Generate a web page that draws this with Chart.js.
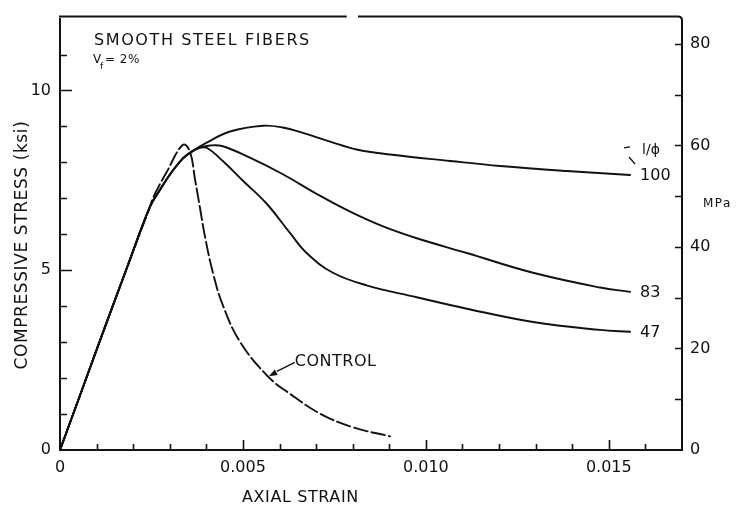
<!DOCTYPE html>
<html>
<head>
<meta charset="utf-8">
<script src="https://cdn.jsdelivr.net/npm/chart.js@4"></script>
<style>
  html, body { margin: 0; padding: 0; background: #fff; }
  canvas { display: block; }
</style>
</head>
<body>
<canvas id="c" width="736" height="508"></canvas>
<script>
// Axis tick labels
const strainTicks = [0, 0.005, 0.010, 0.015];
const strainTickLabels = ['0', '0.005', '0.010', '0.015'];
const ksiTicks = [0, 5, 10];
const mpaTicks = [0, 20, 40, 60, 80];

// Plain concrete (control)
const controlStrain = [0, 0.00060, 0.00120, 0.00183, 0.00246, 0.00255, 0.00292, 0.00336,
  0.00355, 0.00369, 0.00383, 0.00396, 0.00418, 0.00445, 0.00492, 0.00568, 0.00629,
  0.00711, 0.00801, 0.00902];
const controlStress = [0, 1.67, 3.34, 5.07, 6.77, 7.03, 7.74, 8.49,
  8.30, 7.53, 6.71, 5.95, 4.93, 4.03, 3.01, 2.05, 1.56,
  1.01, 0.63, 0.38];

// Smooth steel fibers, l/phi = 47
const fiber47Strain = [0, 0.00060, 0.00120, 0.00183, 0.00246, 0.00273, 0.00301, 0.00336,
  0.00360, 0.00383, 0.00402, 0.00445, 0.00500, 0.00565, 0.00629, 0.00674, 0.00746,
  0.00838, 0.00975, 0.01112, 0.01293, 0.01476, 0.01558];
const fiber47Stress = [0, 1.67, 3.34, 5.07, 6.77, 7.23, 7.67, 8.11,
  8.30, 8.41, 8.40, 8.04, 7.49, 6.85, 6.03, 5.48, 4.93,
  4.58, 4.25, 3.93, 3.56, 3.34, 3.29];

// Smooth steel fibers, l/phi = 83
const fiber83Strain = [0, 0.00060, 0.00120, 0.00183, 0.00246, 0.00273, 0.00301, 0.00336,
  0.00360, 0.00383, 0.00410, 0.00445, 0.00519, 0.00609, 0.00702, 0.00793, 0.00883,
  0.00975, 0.01112, 0.01293, 0.01476, 0.01558];
const fiber83Stress = [0, 1.67, 3.34, 5.07, 6.77, 7.23, 7.67, 8.11,
  8.30, 8.41, 8.47, 8.45, 8.13, 7.67, 7.12, 6.63, 6.22,
  5.89, 5.48, 4.93, 4.52, 4.40];

// Smooth steel fibers, l/phi = 100
const fiber100Strain = [0, 0.00060, 0.00120, 0.00183, 0.00246, 0.00273, 0.00301, 0.00336,
  0.00360, 0.00401, 0.00465, 0.00555, 0.00609, 0.00664, 0.00738, 0.00811, 0.00902,
  0.01066, 0.01203, 0.01385, 0.01558];
const fiber100Stress = [0, 1.67, 3.34, 5.07, 6.77, 7.23, 7.67, 8.11,
  8.30, 8.55, 8.86, 9.02, 8.97, 8.82, 8.58, 8.36, 8.22,
  8.04, 7.90, 7.76, 7.65];

const curveLabels = ['47', '83', '100'];

const FONT = '"DejaVu Sans", "Liberation Sans", sans-serif';
const INK = '#111';

function points(xs, ys) {
  return xs.map((v, i) => ({ x: v, y: ys[i] }));
}

function curve(xs, ys, dashed) {
  return {
    data: points(xs, ys),
    showLine: true,
    borderColor: INK,
    borderWidth: 1.9,
    borderDash: dashed ? [14, 4] : [],
    pointRadius: 0,
    tension: 0.4,
    yAxisID: 'y'
  };
}

function labelFrom(values, labels) {
  return (v) => {
    for (let i = 0; i < values.length; i++) {
      if (Math.abs(v - values[i]) < 1e-9) return labels[i];
    }
    return '';
  };
}

function text(ctx, str, x, y, size, opts = {}) {
  ctx.save();
  ctx.font = size + 'px ' + FONT;
  ctx.textAlign = opts.align || 'left';
  ctx.textBaseline = opts.baseline || 'alphabetic';
  if ('letterSpacing' in ctx) ctx.letterSpacing = (opts.spacing || 0) + 'px';
  if (opts.rotate) {
    ctx.translate(x, y);
    ctx.rotate(opts.rotate);
    ctx.fillText(str, 0, 0);
  } else {
    ctx.fillText(str, x, y);
  }
  ctx.restore();
}

// Frame, inward tick marks and annotations
const figureMarks = {
  id: 'figureMarks',
  afterDraw(chart) {
    const { ctx, chartArea: a, scales } = chart;
    const { x, y, y2 } = scales;
    ctx.save();
    ctx.strokeStyle = INK;
    ctx.fillStyle = INK;
    ctx.lineCap = 'butt';

    // top and right frame
    ctx.lineWidth = 2;
    const top = a.top - 2;
    ctx.beginPath();
    ctx.moveTo(a.left - 1, top);
    ctx.lineTo(a.left + (a.right - a.left) * 0.461, top);
    ctx.moveTo(a.left + (a.right - a.left) * 0.479, top);
    ctx.lineTo(a.right - 4, top);
    ctx.quadraticCurveTo(a.right, top, a.right, top + 4);
    ctx.lineTo(a.right, a.bottom + 1);
    ctx.stroke();

    // ticks pointing into the plot
    ctx.lineWidth = 1.6;
    ctx.beginPath();
    x.ticks.forEach(t => {
      if (t.value <= 0 || t.value >= x.max - 1e-9) return;
      const px = Math.round(x.getPixelForValue(t.value)) + 0.5;
      const len = t.label ? 10 : 6;
      ctx.moveTo(px, a.bottom);
      ctx.lineTo(px, a.bottom - len);
    });
    y.ticks.forEach(t => {
      if (t.value <= 0 || t.value >= y.max) return;
      const py = Math.round(y.getPixelForValue(t.value)) + 0.5;
      const len = t.label ? 12 : 7;
      ctx.moveTo(a.left, py);
      ctx.lineTo(a.left + len, py);
    });
    y2.ticks.forEach(t => {
      if (t.value <= 0 || t.value >= y2.max - 1e-9) return;
      const py = Math.round(y2.getPixelForValue(t.value)) + 0.5;
      ctx.moveTo(a.right, py);
      ctx.lineTo(a.right - 7, py);
    });
    ctx.stroke();

    // axis titles
    text(ctx, 'COMPRESSIVE STRESS (ksi)', 27, y.getPixelForValue(5.7), 17,
      { align: 'center', rotate: -Math.PI / 2, spacing: 0.6 });
    text(ctx, 'AXIAL STRAIN', x.getPixelForValue(0.00657), 502, 16,
      { align: 'center', spacing: 0.6 });
    text(ctx, 'MPa', a.right + 21, y2.getPixelForValue(48.5), 12,
      { align: 'left', baseline: 'middle', spacing: 1.5 });

    // heading
    text(ctx, 'SMOOTH STEEL FIBERS', 94, 45, 16, { spacing: 1.6 });
    text(ctx, 'V', 93, 63, 12);
    text(ctx, 'f', 100, 69, 9);
    text(ctx, '= 2%', 105, 63, 12, { spacing: 0.5 });

    // end-of-curve labels
    const ends = [
      [fiber47Strain, fiber47Stress],
      [fiber83Strain, fiber83Stress],
      [fiber100Strain, fiber100Stress]
    ];
    ends.forEach(([xs, ys], i) => {
      const n = xs.length - 1;
      const px = x.getPixelForValue(xs[n]) + 10;
      const py = y.getPixelForValue(ys[n]);
      text(ctx, curveLabels[i], px, py + 1, 16, { baseline: 'middle' });
    });

    // l/phi heading above the 100 label
    const lx = x.getPixelForValue(fiber100Strain[fiber100Strain.length - 1]);
    const ly = y.getPixelForValue(fiber100Stress[fiber100Stress.length - 1]);
    text(ctx, 'l/\u03d5', lx + 12, ly - 25, 14, { baseline: 'middle' });
    ctx.lineWidth = 1.3;
    ctx.beginPath();
    ctx.moveTo(lx - 6, ly - 27);
    ctx.lineTo(lx, ly - 28);
    ctx.moveTo(lx - 1, ly - 18);
    ctx.lineTo(lx + 5, ly - 11);
    ctx.stroke();

    // CONTROL label with leader arrow
    const tipX = x.getPixelForValue(0.00568) + 1;
    const tipY = y.getPixelForValue(2.05);
    const txtX = tipX + 26;
    const txtY = tipY - 14;
    text(ctx, 'CONTROL', txtX, txtY, 16, { baseline: 'middle', spacing: 0.5 });
    ctx.lineWidth = 1.4;
    ctx.beginPath();
    ctx.moveTo(txtX, txtY);
    ctx.lineTo(tipX + 8, tipY - 5);
    ctx.stroke();
    const ang = Math.atan2(tipY - txtY, tipX - txtX);
    ctx.beginPath();
    ctx.moveTo(tipX, tipY);
    ctx.lineTo(tipX - 9 * Math.cos(ang - 0.35), tipY - 9 * Math.sin(ang - 0.35));
    ctx.lineTo(tipX - 9 * Math.cos(ang + 0.35), tipY - 9 * Math.sin(ang + 0.35));
    ctx.closePath();
    ctx.fill();

    ctx.restore();
  }
};

new Chart(document.getElementById('c'), {
  type: 'scatter',
  data: {
    datasets: [
      curve(controlStrain, controlStress, true),
      curve(fiber47Strain, fiber47Stress, false),
      curve(fiber83Strain, fiber83Stress, false),
      curve(fiber100Strain, fiber100Stress, false)
    ]
  },
  options: {
    responsive: false,
    animation: false,
    devicePixelRatio: 1,
    layout: { padding: { top: 12, left: 0, right: 0, bottom: 0 } },
    plugins: { legend: { display: false }, tooltip: { enabled: false } },
    elements: { line: { borderJoinStyle: 'round', borderCapStyle: 'round' } },
    scales: {
      x: {
        type: 'linear', position: 'bottom', min: 0, max: 0.017,
        grid: { display: false, drawTicks: false },
        border: { display: true, color: INK, width: 2 },
        ticks: {
          stepSize: 0.001, autoSkip: false, maxRotation: 0, padding: 8,
          color: INK, font: { family: FONT, size: 16 },
          callback: labelFrom(strainTicks, strainTickLabels)
        },
        afterFit: s => { s.height = 58; }
      },
      y: {
        type: 'linear', position: 'left', min: 0, max: 12,
        grid: { display: false, drawTicks: false },
        border: { display: true, color: INK, width: 2 },
        ticks: {
          stepSize: 1, autoSkip: false, padding: 9,
          color: INK, font: { family: FONT, size: 16 },
          callback: labelFrom(ksiTicks, ksiTicks.map(String))
        },
        afterFit: s => { s.width = 60; }
      },
      y2: {
        type: 'linear', position: 'right', min: 0, max: 85,
        grid: { display: false, drawTicks: false },
        border: { display: false },
        ticks: {
          stepSize: 10, autoSkip: false, padding: 8,
          color: INK, font: { family: FONT, size: 16 },
          callback: labelFrom(mpaTicks, mpaTicks.map(String))
        },
        afterFit: s => { s.width = 54; }
      }
    }
  },
  plugins: [figureMarks]
});
</script>
</body>
</html>
